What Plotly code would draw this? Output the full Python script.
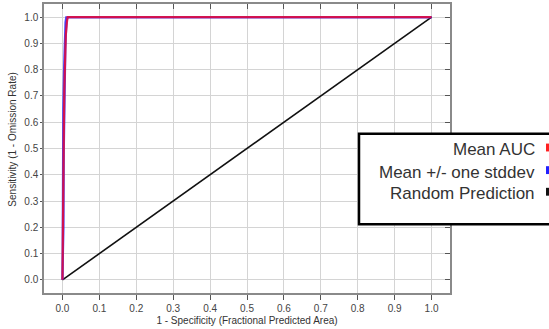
import plotly.graph_objects as go

# ROC curves (fraction of predicted area vs. sensitivity)
mean_x = [0.0, 0.001, 0.002, 0.003, 0.004, 0.005, 0.007, 0.009, 0.012, 0.014, 1.0]
mean_y = [0.0, 0.10, 0.30, 0.45, 0.60, 0.72, 0.85, 0.93, 0.98, 1.0, 1.0]

upper_x = [0.0, 0.0, 0.001, 0.002, 0.004, 0.006, 0.008, 0.010, 1.0]
upper_y = [0.0, 0.12, 0.45, 0.65, 0.80, 0.92, 0.98, 1.0, 1.0]

lower_x = [0.0, 0.003, 0.004, 0.006, 0.008, 0.010, 0.012, 0.015, 1.0]
lower_y = [0.0, 0.20, 0.50, 0.75, 0.88, 0.95, 0.99, 1.0, 1.0]

random_x = [0.0, 1.0]
random_y = [0.0, 1.0]

legend_labels = ["Mean AUC", "Mean +/- one stddev", "Random Prediction"]
legend_colors = ["#ff2020", "#2020ff", "#111111"]

tick_vals = [i / 10 for i in range(11)]

W, H = 549, 329
ML, MR, MT, MB = 44, 99, 4, 31
PW, PH = W - ML - MR, H - MT - MB
FONT = "Liberation Sans, Arial"


def px_x(px):
    return (px - ML) / PW


def px_y(py):
    return (H - MB - py) / PH


fig = go.Figure()
fig.add_trace(go.Scatter(x=random_x, y=random_y, mode="lines",
                         line=dict(color="#111111", width=1.6), showlegend=False))
fig.add_trace(go.Scatter(x=upper_x, y=upper_y, mode="lines",
                         line=dict(color="rgba(40,40,255,0.85)", width=2), showlegend=False))
fig.add_trace(go.Scatter(x=lower_x, y=lower_y, mode="lines",
                         line=dict(color="rgba(40,40,255,0.85)", width=2), showlegend=False))
fig.add_trace(go.Scatter(x=mean_x, y=mean_y, mode="lines",
                         line=dict(color="rgba(235,10,50,0.85)", width=2.2), showlegend=False))

# mirrored axes carrying inward ticks on the top and right edges
fig.add_trace(go.Scatter(x=[None], y=[None], xaxis="x2", yaxis="y2", showlegend=False))

axis_common = dict(
    range=[-0.05, 1.05], tickvals=tick_vals, tickformat=".1f",
    showgrid=True, gridcolor="#d4d4d4", gridwidth=1,
    zeroline=False, showline=True, linecolor="#8a8a8a", linewidth=1.5,
    ticks="outside", tickcolor="#555555",
    tickfont=dict(family=FONT, size=10, color="#444444"),
)

fig.update_layout(
    width=W, height=H,
    margin=dict(l=ML, r=MR, t=MT, b=MB),
    paper_bgcolor="white", plot_bgcolor="white",
    showlegend=False,
    xaxis=dict(**axis_common, ticklen=5,
               title=dict(text="1 - Specificity (Fractional Predicted Area)",
                          font=dict(family=FONT, size=10, color="#333333"),
                          standoff=4)),
    yaxis=dict(**axis_common, ticklen=2),
    xaxis2=dict(range=[-0.05, 1.05], tickvals=tick_vals, overlaying="x", side="top",
                showticklabels=False, showgrid=False, zeroline=False, showline=True,
                linecolor="#8a8a8a", linewidth=1.5,
                ticks="inside", ticklen=5, tickcolor="#555555"),
    yaxis2=dict(range=[-0.05, 1.05], tickvals=tick_vals, overlaying="y", side="right",
                showticklabels=False, showgrid=False, zeroline=False, showline=True,
                linecolor="#8a8a8a", linewidth=1.5,
                ticks="inside", ticklen=5, tickcolor="#555555"),
)

# y axis title placed beside the tick labels
annotations = [dict(xref="paper", yref="paper", x=px_x(13), y=px_y(142),
                    xanchor="center", yanchor="middle", showarrow=False, textangle=-90,
                    text="Sensitivity (1 - Omission Rate)",
                    font=dict(family=FONT, size=10, color="#333333"))]

# legend box drawn on the right
shapes = [dict(type="rect", xref="paper", yref="paper",
               x0=px_x(359), x1=px_x(570), y0=px_y(228), y1=px_y(136),
               line=dict(color="#000000", width=2.5), fillcolor="white", layer="above")]
rows_y = [152, 175, 197]
for label, color, yy in zip(legend_labels, legend_colors, rows_y):
    annotations.append(dict(xref="paper", yref="paper", x=px_x(537), y=px_y(yy),
                            xanchor="right", yanchor="middle", showarrow=False,
                            text=label,
                            font=dict(family=FONT, size=17, color="#333333")))
    shapes.append(dict(type="rect", xref="paper", yref="paper",
                       x0=px_x(546), x1=px_x(552), y0=px_y(yy + 2), y1=px_y(yy - 6),
                       line=dict(width=0), fillcolor=color, layer="above"))

fig.update_layout(shapes=shapes, annotations=annotations)

fig.write_html("out.html")
